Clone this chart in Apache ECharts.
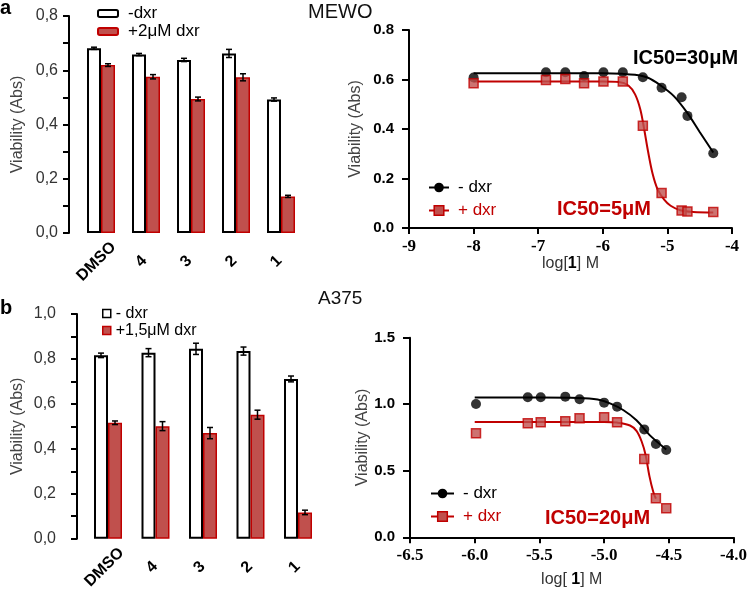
<!DOCTYPE html>
<html><head><meta charset="utf-8">
<script src="https://cdn.jsdelivr.net/npm/echarts@6/dist/echarts.min.js"></script>
<style>html,body{margin:0;padding:0;background:#fff}#c{width:750px;height:592px}</style>
</head><body><div id="c"></div>
<script>
// ---------- data ----------
const categories = ['DMSO', '4', '3', '2', '1'];

// panel a, bars (MEWO)
const barA_minus     = [0.681, 0.658, 0.638, 0.662, 0.492];
const barA_minus_err = [0.004, 0.004, 0.006, 0.015, 0.006];
const barA_plus      = [0.619, 0.576, 0.494, 0.574, 0.135];
const barA_plus_err  = [0.005, 0.008, 0.007, 0.013, 0.004];

// panel b, bars (A375)
const barB_minus     = [0.816, 0.828, 0.845, 0.835, 0.711];
const barB_minus_err = [0.010, 0.018, 0.025, 0.018, 0.013];
const barB_plus      = [0.516, 0.501, 0.470, 0.552, 0.117];
const barB_plus_err  = [0.008, 0.020, 0.025, 0.020, 0.010];

// panel a, dose response (MEWO)
const doseA        = [-8.0, -6.88, -6.58, -6.29, -5.99, -5.69, -5.38, -5.09, -4.78, -4.69, -4.29];
const viaA_minus   = [0.608, 0.629, 0.629, 0.614, 0.629, 0.629, 0.609, 0.567, 0.528, 0.453, 0.302];
const viaA_plus    = [0.585, 0.598, 0.602, 0.585, 0.592, 0.592, 0.413, 0.141, 0.071, 0.067, 0.065];
const fitA_minus_x = [-8.0, -6.5, -6.0, -5.7, -5.5, -5.3, -5.1, -4.9, -4.7, -4.5, -4.29];
const fitA_minus_y = [0.625, 0.625, 0.625, 0.623, 0.619, 0.607, 0.575, 0.533, 0.468, 0.388, 0.305];
const fitA_plus_x  = [-8.0, -6.0, -5.75, -5.6, -5.5, -5.42, -5.36, -5.3, -5.23, -5.15, -5.05, -4.95, -4.8, -4.6, -4.29];
const fitA_plus_y  = [0.592, 0.592, 0.590, 0.575, 0.540, 0.480, 0.400, 0.310, 0.220, 0.155, 0.115, 0.090, 0.072, 0.065, 0.063];

// panel b, dose response (A375)
const doseB        = [-5.99, -5.59, -5.49, -5.30, -5.19, -5.0, -4.9, -4.69, -4.6, -4.52];
const viaB_minus   = [1.002, 1.052, 1.052, 1.057, 1.037, 1.012, 0.982, 0.811, 0.701, 0.656];
const viaB_plus    = [0.781, 0.857, 0.864, 0.872, 0.894, 0.902, 0.864, 0.589, 0.293, 0.218];
const fitB_minus_x = [-6.0, -5.5, -5.2, -5.05, -4.95, -4.85, -4.75, -4.65, -4.52];
const fitB_minus_y = [1.05, 1.05, 1.047, 1.035, 1.005, 0.955, 0.88, 0.77, 0.66];
const fitB_plus_x  = [-6.0, -5.0, -4.9, -4.8, -4.75, -4.71, -4.68, -4.65, -4.62, -4.6];
const fitB_plus_y  = [0.867, 0.867, 0.862, 0.84, 0.80, 0.72, 0.62, 0.46, 0.34, 0.29];

// tick settings
const barA_yTicks = {min: 0, max: 0.8, interval: 0.2};
const barB_yTicks = {min: 0, max: 1.0, interval: 0.2};
const lineA_x = {min: -9, max: -4, interval: 1};
const lineA_y = {min: 0, max: 0.8, interval: 0.2};
const lineB_x = {min: -6.5, max: -4, interval: 0.5};
const lineB_y = {min: 0, max: 1.5, interval: 0.5};

// ---------- styling ----------
const SANS = '"Liberation Sans", Arial, sans-serif';
const SERIF = '"Liberation Serif", "Times New Roman", serif';
const RED = '#c00000';
const RED_FILL = '#c0504d';
const pairs = (xs, ys) => xs.map((x, i) => [x, ys[i]]);
const errData = (vals, errs) => vals.map((v, i) => [i, v, errs[i]]);

function errRender(dx) {
  return function (params, api) {
    const i = api.value(0), v = api.value(1), e = api.value(2);
    const p1 = api.coord([i, v + e]), p2 = api.coord([i, v - e]);
    const x = p1[0] + dx, cap = 3;
    const st = {stroke: '#000', lineWidth: 1.5};
    return {type: 'group', children: [
      {type: 'line', shape: {x1: x, y1: p1[1], x2: x, y2: p2[1]}, style: st},
      {type: 'line', shape: {x1: x - cap, y1: p1[1], x2: x + cap, y2: p1[1]}, style: st},
      {type: 'line', shape: {x1: x - cap, y1: p2[1], x2: x + cap, y2: p2[1]}, style: st}
    ]};
  };
}

function barYAxis(grid, ticks, offset, nameGap, margin) {
  return Object.assign({
    gridIndex: grid, type: 'value', offset: offset,
    axisLine: {show: true, onZero: false, lineStyle: {color: '#000', width: 2}},
    axisTick: {show: true, inside: false, length: 6, lineStyle: {color: '#000', width: 2}},
    minorTick: {show: true, splitNumber: 2, length: 6, lineStyle: {color: '#000', width: 2}},
    splitLine: {show: false}, minorSplitLine: {show: false},
    axisLabel: {margin: margin, fontFamily: SANS, fontSize: 16, color: '#333',
      formatter: v => v.toFixed(1).replace('.', ',')},
    name: 'Viability (Abs)', nameLocation: 'middle', nameGap: nameGap,
    nameTextStyle: {fontFamily: SANS, fontSize: 16, color: '#444'}
  }, ticks);
}
function barXAxis(grid, margin, pad) {
  return {
    gridIndex: grid, type: 'category', data: categories,
    axisLine: {show: false}, axisTick: {show: false},
    axisLabel: {rotate: 45, align: 'center', verticalAlign: 'middle', margin: margin,
      padding: [0, pad, pad, 0], fontFamily: SANS, fontWeight: 'bold', fontSize: 16, color: '#000'}
  };
}
function lineXAxis(grid, ticks, name, nameGap) {
  return Object.assign({
    gridIndex: grid, type: 'value',
    axisLine: {show: true, onZero: false, lineStyle: {color: '#000', width: 2}},
    axisTick: {show: true, inside: false, length: 6, lineStyle: {color: '#000', width: 2}},
    splitLine: {show: false},
    axisLabel: {margin: 10, fontFamily: SERIF, fontWeight: 'bold', fontSize: 17, color: '#000',
      formatter: v => (ticks.interval < 1 ? v.toFixed(1) : String(v))},
    name: name, nameLocation: 'middle', nameGap: nameGap,
    nameTextStyle: {fontFamily: SANS, fontSize: 16, color: '#333',
      rich: {n: {fontFamily: SANS, fontSize: 16, color: '#333'},
             b: {fontFamily: SANS, fontSize: 16, color: '#000', fontWeight: 'bold'}}}
  }, ticks);
}
function lineYAxis(grid, ticks, nameGap) {
  return Object.assign({
    gridIndex: grid, type: 'value',
    axisLine: {show: true, onZero: false, lineStyle: {color: '#000', width: 2}},
    axisTick: {show: true, inside: false, length: 7, lineStyle: {color: '#000', width: 2}},
    splitLine: {show: false},
    axisLabel: {margin: 15, fontFamily: SANS, fontWeight: 'bold', fontSize: 15, color: '#000',
      formatter: v => v.toFixed(1)},
    name: 'Viability (Abs)', nameLocation: 'middle', nameGap: nameGap,
    nameTextStyle: {fontFamily: SANS, fontSize: 16, color: '#444'}
  }, ticks);
}

const barW = 14;
const whiteBar = {color: '#fff', borderColor: '#000', borderWidth: 2};
const redBar = {color: RED_FILL, borderColor: RED, borderWidth: 1.5};

function curveSeries(name, xi, data, isRed) {
  return {type: 'line', name: name, xAxisIndex: xi, yAxisIndex: xi, data: data,
    smooth: 0.35, showSymbol: false, symbol: isRed ? 'rect' : 'circle', symbolSize: 9,
    lineStyle: {color: isRed ? RED : '#000', width: 2},
    itemStyle: isRed ? {color: RED_FILL, borderColor: RED, borderWidth: 1.5} : {color: '#000'},
    z: 3, silent: true};
}
function pointSeries(name, xi, data, isRed) {
  return {type: 'scatter', name: name, xAxisIndex: xi, yAxisIndex: xi, data: data,
    symbol: isRed ? 'rect' : 'circle', symbolSize: isRed ? 9 : 10,
    itemStyle: isRed ? {color: RED_FILL, borderColor: RED, borderWidth: 1.5} : {color: '#000'},
    z: 4, silent: true};
}

const lineLegendData = [
  {name: '- dxr', textStyle: {color: '#000'}, itemStyle: {color: '#000'}},
  {name: '+ dxr', textStyle: {color: RED}, itemStyle: {color: RED_FILL, borderColor: RED, borderWidth: 1.5}}
];
const legendNames = {bB_minus: '- dxr', bB_plus: '+1,5μM dxr'};

const option = {
  backgroundColor: '#fff',
  animation: false,
  grid: [
    {left: 78.5, top: 16, width: 225, height: 217},
    {left: 409, top: 30, width: 323, height: 198},
    {left: 84.25, top: 314, width: 237.5, height: 227.7},
    {left: 410, top: 337.7, width: 326.7, height: 199.6}
  ],
  xAxis: [
    barXAxis(0, 24, 13),
    lineXAxis(1, lineA_x, '{n|log[}{b|1}{n|] M}', 28),
    barXAxis(2, 25, 10),
    lineXAxis(3, lineB_x, '{n|log[ }{b|1}{n|] M}', 34)
  ],
  yAxis: [
    barYAxis(0, barA_yTicks, 9.5, 43.5, 11),
    lineYAxis(1, lineA_y, 45),
    barYAxis(2, barB_yTicks, 7.25, 51.5, 21),
    lineYAxis(3, lineB_y, 38.5)
  ],
  legend: [
    {orient: 'vertical', left: 97, top: 5, padding: 0, itemWidth: 20, itemHeight: 7, itemGap: 1,
     icon: 'roundRect', selectedMode: false,
     textStyle: {fontFamily: SANS, fontSize: 17, lineHeight: 17, color: '#000', padding: [0, 0, 0, 5]},
     data: [{name: '-dxr', itemStyle: {color: '#fff', borderColor: '#000', borderWidth: 2}},
            {name: '+2μM dxr', itemStyle: {color: RED_FILL, borderColor: RED, borderWidth: 2}}]},
    {orient: 'vertical', left: 102, top: 305, padding: 0, itemWidth: 8, itemHeight: 8, itemGap: 0,
     icon: 'rect', selectedMode: false, formatter: n => legendNames[n] || n,
     textStyle: {fontFamily: SANS, fontSize: 16, lineHeight: 17, color: '#000'},
     data: [{name: 'bB_minus', itemStyle: {color: '#fff', borderColor: '#000', borderWidth: 1.5}},
            {name: 'bB_plus', itemStyle: {color: RED_FILL, borderColor: RED, borderWidth: 1.5}}]},
    {orient: 'vertical', left: 428, top: 179, padding: 0, itemWidth: 20, itemHeight: 12, itemGap: 6,
     selectedMode: false,
     textStyle: {fontFamily: SANS, fontSize: 17, lineHeight: 17, padding: [0, 0, 0, 4]},
     data: lineLegendData},
    {orient: 'vertical', left: 430, top: 485, padding: 0, itemWidth: 23, itemHeight: 12, itemGap: 6,
     selectedMode: false,
     textStyle: {fontFamily: SANS, fontSize: 17, lineHeight: 17, padding: [0, 0, 0, 4]},
     data: lineLegendData}
  ],
  graphic: [
    {type: 'text', x: 0, y: 8, style: {text: 'a', font: 'bold 20px ' + SANS, fill: '#000', textVerticalAlign: 'middle'}},
    {type: 'text', x: 0, y: 308, style: {text: 'b', font: 'bold 20px ' + SANS, fill: '#000', textVerticalAlign: 'middle'}},
    {type: 'text', x: 308, y: 12, style: {text: 'MEWO', font: '20px ' + SANS, fill: '#111', textVerticalAlign: 'middle'}},
    {type: 'text', x: 318, y: 299, style: {text: 'A375', font: '19px ' + SANS, fill: '#111', textVerticalAlign: 'middle'}},
    {type: 'text', x: 633, y: 58, style: {text: 'IC50=30μM', font: 'bold 20px ' + SANS, fill: '#000', textVerticalAlign: 'middle'}},
    {type: 'text', x: 557, y: 209, style: {text: 'IC50=5μM', font: 'bold 20px ' + SANS, fill: RED, textVerticalAlign: 'middle'}},
    {type: 'text', x: 545, y: 518, style: {text: 'IC50=20μM', font: 'bold 20px ' + SANS, fill: RED, textVerticalAlign: 'middle'}}
  ],
  series: [
    // panel a bars
    {type: 'bar', name: '-dxr', xAxisIndex: 0, yAxisIndex: 0, data: barA_minus, barWidth: barW, barGap: '0%', itemStyle: whiteBar, silent: true},
    {type: 'bar', name: '+2μM dxr', xAxisIndex: 0, yAxisIndex: 0, data: barA_plus, barWidth: barW, barGap: '0%', itemStyle: redBar, silent: true},
    {type: 'custom', xAxisIndex: 0, yAxisIndex: 0, renderItem: errRender(-barW / 2), data: errData(barA_minus, barA_minus_err), encode: {x: 0, y: 1}, z: 10, silent: true},
    {type: 'custom', xAxisIndex: 0, yAxisIndex: 0, renderItem: errRender(barW / 2), data: errData(barA_plus, barA_plus_err), encode: {x: 0, y: 1}, z: 10, silent: true},
    // panel b bars
    {type: 'bar', name: 'bB_minus', xAxisIndex: 2, yAxisIndex: 2, data: barB_minus, barWidth: barW, barGap: '0%', itemStyle: whiteBar, silent: true},
    {type: 'bar', name: 'bB_plus', xAxisIndex: 2, yAxisIndex: 2, data: barB_plus, barWidth: barW, barGap: '0%', itemStyle: redBar, silent: true},
    {type: 'custom', xAxisIndex: 2, yAxisIndex: 2, renderItem: errRender(-barW / 2), data: errData(barB_minus, barB_minus_err), encode: {x: 0, y: 1}, z: 10, silent: true},
    {type: 'custom', xAxisIndex: 2, yAxisIndex: 2, renderItem: errRender(barW / 2), data: errData(barB_plus, barB_plus_err), encode: {x: 0, y: 1}, z: 10, silent: true},
    // panel a curves
    curveSeries('- dxr', 1, pairs(fitA_minus_x, fitA_minus_y), false),
    curveSeries('+ dxr', 1, pairs(fitA_plus_x, fitA_plus_y), true),
    pointSeries('MEWO -dxr points', 1, pairs(doseA, viaA_minus), false),
    pointSeries('MEWO +dxr points', 1, pairs(doseA, viaA_plus), true),
    // panel b curves
    curveSeries('- dxr', 3, pairs(fitB_minus_x, fitB_minus_y), false),
    curveSeries('+ dxr', 3, pairs(fitB_plus_x, fitB_plus_y), true),
    pointSeries('A375 -dxr points', 3, pairs(doseB, viaB_minus), false),
    pointSeries('A375 +dxr points', 3, pairs(doseB, viaB_plus), true)
  ]
};

const chart = echarts.init(document.getElementById('c'), null, {renderer: 'canvas'});
chart.setOption(option);
</script>
</body></html>
